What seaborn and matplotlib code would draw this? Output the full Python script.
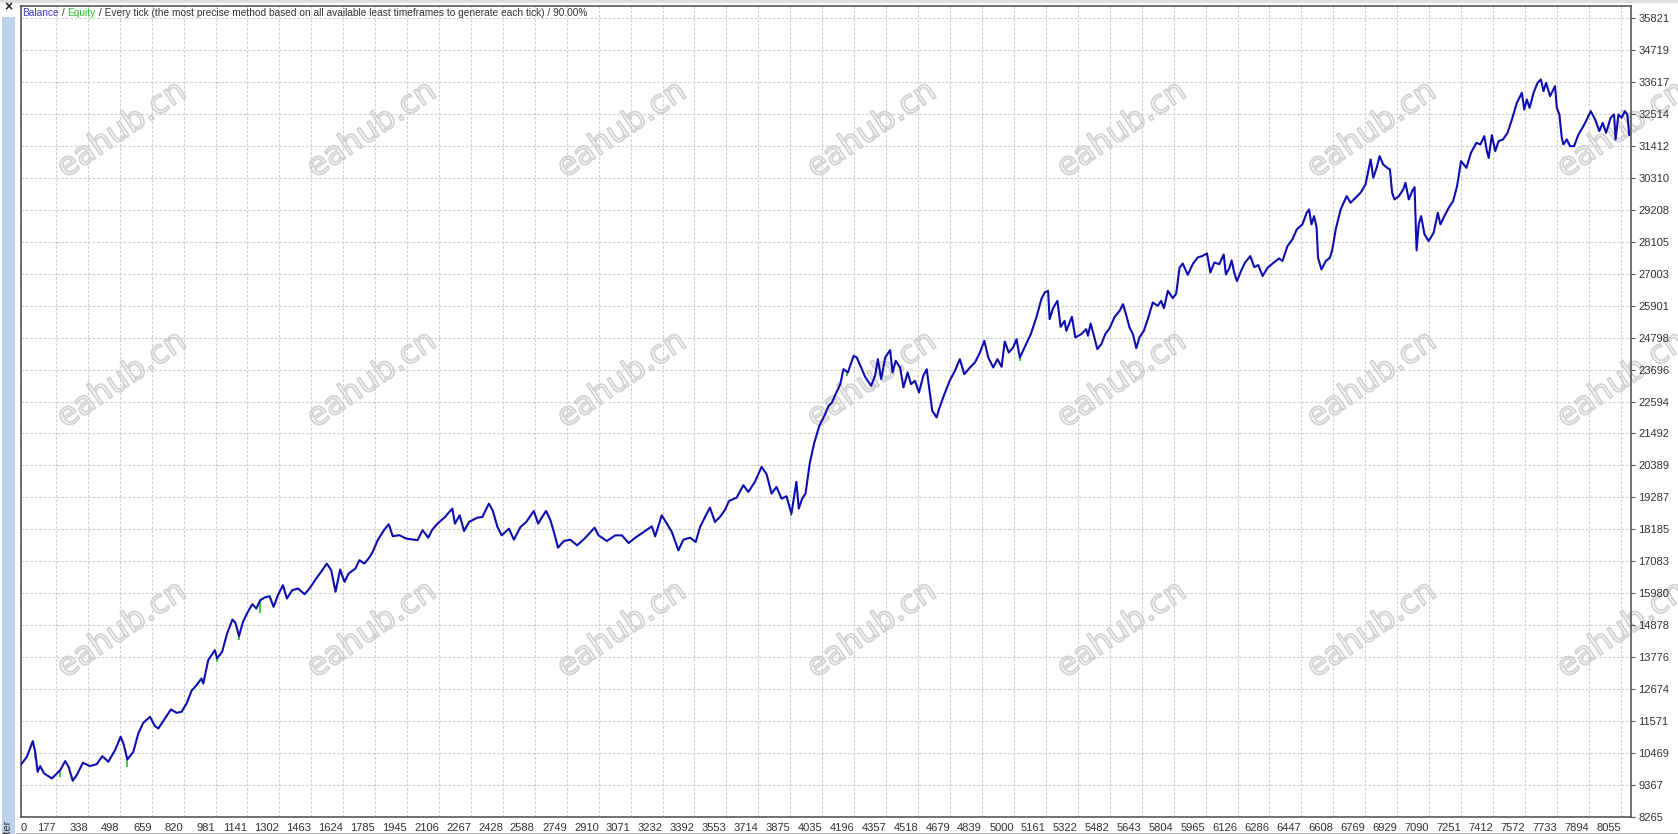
import matplotlib
matplotlib.use("Agg")
import matplotlib.pyplot as plt
import matplotlib.patheffects as pe
from matplotlib.lines import Line2D
from matplotlib.patches import Rectangle
import numpy as np
import pandas as pd
import seaborn as sns

# --- data ---------------------------------------------------------------
BAL_X = [
    0, 31, 61, 73, 85, 98, 118, 157, 199, 224, 241, 262, 282, 313, 349, 383,
    411, 441, 475, 503, 517, 537, 567, 592, 617, 651, 676, 693, 726, 756, 785,
    810, 835, 860, 885, 910, 919, 944, 977, 989, 1014, 1039, 1066, 1081, 1099,
    1119, 1139, 1166, 1186, 1206, 1228, 1253, 1273, 1295, 1320, 1340, 1367,
    1396, 1429, 1454, 1484, 1518, 1541, 1563, 1585, 1608, 1630, 1651, 1685,
    1705, 1730, 1755, 1772, 1797, 1831, 1853, 1873, 1906, 1940, 1973, 1998,
    2023, 2052, 2072, 2098, 2136, 2153, 2173, 2186, 2210, 2232, 2257, 2299,
    2324, 2357, 2377, 2399, 2421, 2458, 2483, 2516, 2545, 2583, 2605, 2625,
    2645, 2667, 2689, 2705, 2734, 2767, 2801, 2843, 2889, 2909, 2951, 2993,
    3027, 3060, 3094, 3136, 3177, 3194, 3227, 3253, 3278, 3311, 3336, 3370,
    3398, 3420, 3445, 3470, 3495, 3520, 3546, 3566, 3604, 3638, 3663, 3696,
    3730, 3755, 3780, 3805, 3830, 3855, 3880, 3905, 3917, 3934, 3951, 3972,
    3994, 4020, 4050, 4067, 4084, 4104, 4126, 4142, 4164, 4193, 4209, 4231,
    4251, 4281, 4301, 4315, 4332, 4352, 4377, 4389, 4405, 4427, 4444, 4465,
    4482, 4502, 4522, 4544, 4561, 4573, 4589, 4611, 4623, 4650, 4678, 4703,
    4728, 4750, 4779, 4804, 4829, 4851, 4871, 4896, 4917, 4938, 4954, 4974,
    4996, 5013, 5030, 5055, 5085, 5113, 5138, 5155, 5172, 5180, 5197, 5219,
    5235, 5255, 5264, 5292, 5309, 5339, 5364, 5373, 5386, 5403, 5420, 5440,
    5460, 5482, 5507, 5532, 5549, 5565, 5582, 5599, 5616, 5632, 5654, 5674,
    5699, 5724, 5741, 5755, 5775, 5800, 5817, 5834, 5850, 5875, 5900, 5925,
    5950, 5972, 5989, 6009, 6034, 6056, 6067, 6084, 6096, 6109, 6123, 6143,
    6163, 6190, 6210, 6230, 6252, 6277, 6307, 6335, 6352, 6377, 6402, 6424,
    6452, 6474, 6486, 6498, 6511, 6524, 6531, 6548, 6570, 6591, 6603, 6620,
    6645, 6675, 6695, 6720, 6745, 6770, 6796, 6809, 6826, 6841, 6859, 6879,
    6893, 6904, 6916, 6938, 6960, 6971, 6988, 7005, 7017, 7022, 7027, 7038,
    7050, 7067, 7088, 7113, 7134, 7147, 7167, 7189, 7211, 7231, 7251, 7278,
    7301, 7328, 7348, 7368, 7381, 7390, 7406, 7423, 7440, 7462, 7485, 7507,
    7532, 7557, 7569, 7582, 7596, 7616, 7636, 7653, 7666, 7679, 7699, 7724,
    7733, 7746, 7758, 7766, 7783, 7800, 7820, 7842, 7867, 7884, 7904, 7926,
    7947, 7964, 7981, 8004, 8021, 8029, 8043, 8059, 8076, 8088, 8098,
]
BAL_Y = [
    10050, 10333, 10873, 10505, 9815, 10011, 9758, 9585, 9873, 10183, 9988,
    9505, 9700, 10126, 10011, 10080, 10356, 10160, 10563, 11023, 10793, 10241,
    10505, 11138, 11506, 11713, 11391, 11310, 11655, 11966, 11851, 11885,
    12173, 12610, 12806, 13036, 12863, 13668, 14013, 13726, 13956, 14588,
    15071, 14956, 14496, 14990, 15278, 15600, 15451, 15738, 15830, 15876,
    15508, 15911, 16256, 15795, 16083, 16140, 15945, 16140, 16451, 16773,
    17003, 16773, 16025, 16796, 16370, 16658, 16831, 17118, 17003, 17210,
    17406, 17808, 18176, 18360, 17946, 17981, 17866, 17831, 17808, 18153,
    17895, 18171, 18379, 18609, 18748, 18898, 18379, 18667, 18125, 18437,
    18587, 18609, 19071, 18817, 18287, 17975, 18206, 17826, 18264, 18437,
    18817, 18379, 18609, 18817, 18494, 17975, 17549, 17780, 17826, 17630,
    17895, 18240, 17975, 17780, 17975, 17975, 17711, 17895, 18091, 18287,
    17941, 18667, 18379, 18091, 17457, 17826, 17895, 17745, 18264, 18609,
    18932, 18437, 18609, 18863, 19163, 19278, 19705, 19474, 19820, 20339,
    20085, 19417, 19647, 19244, 19325, 18725, 19820, 18898, 19244, 19417,
    20454, 21146, 21750, 22160, 22447, 22562, 22872, 23195, 23712, 23597,
    24172, 24115, 23770, 23448, 23137, 23482, 24057, 23367, 24115, 24368,
    23597, 24000, 23770, 23080, 23597, 23195, 23310, 22907, 23482, 23712,
    23080, 22275, 22044, 22332, 22850, 23332, 23655, 24057, 23540, 23770,
    23942, 24287, 24690, 24115, 23770, 24057, 23792, 24666, 24287, 24460,
    24747, 24115, 24482, 24920, 25495, 26127, 26357, 26415, 25437, 25816,
    26070, 25172, 25379, 25035, 25517, 24805, 24920, 25092, 24862, 25287,
    24862, 24402, 24575, 24920, 25126, 25517, 25724, 25954, 25586, 25149,
    24920, 24437, 24805, 25035, 25437, 26012, 25897, 26070, 25816, 26415,
    26162, 26323, 27220, 27358, 26967, 27335, 27565, 27622, 27703, 27047,
    27392, 27335, 27671, 26981, 27188, 27464, 27039, 26751, 27096, 27384,
    27614, 27234, 27303, 26924, 27211, 27384, 27534, 27442, 27959, 28189,
    28534, 28707, 29109, 29224, 28707, 28994, 28592, 27557, 27154, 27442,
    27557, 27844, 28534, 29224, 29684, 29454, 29626, 29799, 30086, 30949,
    30316, 30661, 31064, 30776, 30661, 30604, 29799, 29569, 29684, 29914,
    30144, 29569, 29856, 29995, 28936, 27810, 28707, 28994, 28362, 28131,
    28419, 29109, 28707, 28994, 29281, 29511, 30029, 30891, 30661, 31179,
    31524, 31467, 31754, 31237, 31007, 31789, 31237, 31582, 31639, 31869,
    32329, 32904, 33249, 32674, 33019, 32731, 33249, 33594, 33709, 33306,
    33594, 33134, 33479, 32731, 32502, 31697, 31467, 31639, 31409, 31409,
    31812, 32099, 32329, 32617, 32329, 31927, 32214, 31869, 32387, 32502,
    31639, 32502, 32387, 32617, 32502, 31789,
]
# equity dips (green) below the balance line
EQ_X = [73, 199, 537, 988, 1099, 1206, 3880, 4160, 5030, 7390]
EQ_LOW = [10300, 9650, 9990, 13620, 14380, 15300, 18640, 23480, 24000, 30980]

Y_TICKS = [8265, 9367, 10469, 11571, 12674, 13776, 14878, 15980, 17083,
           18185, 19287, 20389, 21492, 22594, 23696, 24798, 25901, 27003,
           28105, 29208, 30310, 31412, 32514, 33617, 34719, 35821]
X_TICKS = [0, 177, 338, 498, 659, 820, 981, 1141, 1302, 1463, 1624, 1785,
           1945, 2106, 2267, 2428, 2588, 2749, 2910, 3071, 3232, 3392, 3553,
           3714, 3875, 4035, 4196, 4357, 4518, 4679, 4839, 5000, 5161, 5322,
           5482, 5643, 5804, 5965, 6126, 6286, 6447, 6608, 6769, 6929, 7090,
           7251, 7412, 7572, 7733, 7894, 8055]
TITLE_PARTS = [
    ("Balance", "#3b3bc4"),
    (" / ", "#333333"),
    ("Equity", "#2ec12e"),
    (" / Every tick (the most precise method based on all available least "
     "timeframes to generate each tick) / 90.00%", "#333333"),
]

W, H = 1678, 834
BLUE = "#0d0db0"
GREEN = "#22c022"

sns.set_style("white")
plt.rcParams["font.family"] = ["Liberation Sans", "DejaVu Sans"]

fig = plt.figure(figsize=(W / 100, H / 100), dpi=100)
fig.patch.set_facecolor("white")

# plot frame in pixels: left 20.7, right 1630.7, top 5.7, bottom 816.7
ax = fig.add_axes([20.7 / W, (H - 816.7) / H, 1610 / W, 811 / H])
ax.set_facecolor("white")

df = pd.DataFrame({"tick": BAL_X, "balance": BAL_Y})
eq_top = np.interp(EQ_X, BAL_X, BAL_Y)
ax.vlines(EQ_X, EQ_LOW, eq_top, color=GREEN, lw=1.2, zorder=2.5)
sns.lineplot(data=df, x="tick", y="balance", ax=ax, color=BLUE,
             linewidth=1.5, zorder=3)

ax.set_xlim(0, 8105)
ax.set_ylim(8265, 36256)
ax.set_xlabel("")
ax.set_ylabel("")

# axis/grid at zorder 1.5: above the watermark, below the curve
ax.set_axisbelow("line")
ax.grid(True, color="#cdcdcd", linestyle=(0, (2.4, 1.6)), linewidth=0.8)

ax.yaxis.tick_right()
ax.set_yticks(Y_TICKS)
ax.set_yticklabels([str(v) for v in Y_TICKS])
ax.set_xticks(X_TICKS)
ax.set_xticklabels([str(v) for v in X_TICKS])
for i, lab in enumerate(ax.get_xticklabels()):
    lab.set_ha("left" if i == 0 else "right")
ax.tick_params(axis="both", which="both", direction="out", length=3,
               width=0.8, color="#555555", labelcolor="#333333", labelsize=8)
ax.tick_params(axis="x", pad=1.5)
ax.tick_params(axis="y", pad=2.5, right=True, left=False)

for sp in ax.spines.values():
    sp.set_visible(True)
    sp.set_color("#4a4a4a")
    sp.set_linewidth(1.1)

# watermark: hollow outlined letters
for i in range(7):
    for j in range(3):
        ax.text((122 + 250 * i) / W, 1 - (130 + 250 * j) / H, "eahub.cn",
                transform=fig.transFigure, fontsize=23, rotation=34,
                rotation_mode="anchor", ha="center", va="center",
                color=(1, 1, 1, 0), family="DejaVu Sans", zorder=1,
                clip_on=False,
                path_effects=[pe.Stroke(linewidth=1.3, foreground="#d2d2d2"),
                              pe.Normal()])

# window decorations
fig.patches.append(Rectangle((0, 1 - 3 / H), 1, 3 / H, transform=fig.transFigure,
                             facecolor="#dedede", edgecolor="none", zorder=0))
fig.patches.append(Rectangle((2 / W, 0), 13 / W, (H - 17) / H,
                             transform=fig.transFigure, facecolor="#bcd2ec",
                             edgecolor="none", zorder=0))
fig.text(8 / W, 1 - 7 / H, "\u00d7", ha="center", va="center", fontsize=10,
         fontweight="bold", color="#222222")
fig.text(8 / W, 14 / H, "Tester", rotation=90, ha="center", va="top",
         fontsize=8, color="#333333")
fig.add_artist(Line2D([16 / W, 1], [1.5 / H, 1.5 / H], transform=fig.transFigure,
                      color="#b0b0b0", lw=0.8))

# title line with coloured parts
renderer = fig.canvas.get_renderer()
x_px = 22
for txt, col in TITLE_PARTS:
    t = fig.text(x_px / W, 1 - 16.5 / H, txt, color=col, fontsize=7.3,
                 ha="left", va="baseline")
    x_px = t.get_window_extent(renderer).x1

fig.savefig("out.png", dpi=100)
